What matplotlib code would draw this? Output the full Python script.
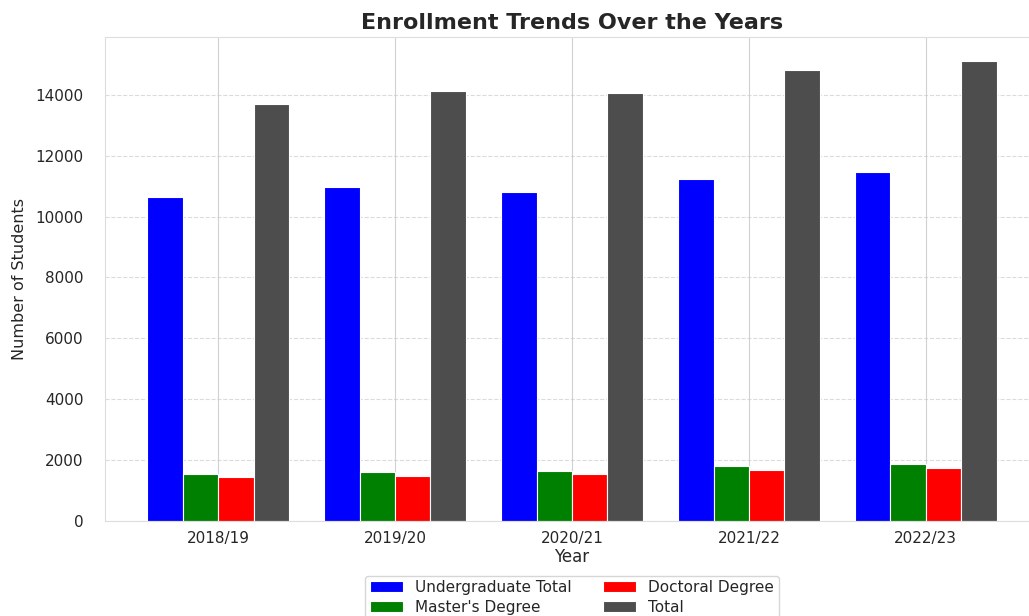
import numpy as np
import matplotlib
matplotlib.use("Agg")
import matplotlib.pyplot as plt
import seaborn as sns

years = ["2018/19", "2019/20", "2020/21", "2021/22", "2022/23"]
undergrad = [10650, 10975, 10810, 11240, 11470]
masters = [1535, 1620, 1655, 1815, 1865]
doctoral = [1445, 1470, 1535, 1675, 1730]
total = [13700, 14130, 14065, 14820, 15115]

series = [
    ("Undergraduate Total", undergrad, "blue"),
    ("Master's Degree", masters, "green"),
    ("Doctoral Degree", doctoral, "red"),
    ("Total", total, "#4d4d4d"),
]

sns.set_style("whitegrid")
plt.rcParams['font.family'] = ['DejaVu Sans']

fig = plt.figure(figsize=(10.29, 6.16), dpi=100)
# axes runs past the right edge, as in the reference crop
ax = fig.add_axes([105 / 1029, 95 / 616, 934 / 1029, 484 / 616])

x = np.arange(len(years))
width = 0.2
for i, (label, vals, color) in enumerate(series):
    ax.bar(x + (i - 1.5) * width, vals, width, label=label, color=color,
           edgecolor="white", linewidth=0.8)

ax.set_xticks(x)
ax.set_xticklabels(years, fontsize=11)
ax.tick_params(axis='y', labelsize=11, pad=12)
ax.set_xlim(-0.64, 4.64)
ax.set_ylim(0, 15900)
ax.set_yticks(np.arange(0, 14001, 2000))
ax.set_title("Enrollment Trends Over the Years", fontsize=16, fontweight='bold', pad=6)
ax.set_xlabel("Year", fontsize=12, labelpad=2)
ax.set_ylabel("Number of Students", fontsize=11.5, labelpad=6)

ax.yaxis.grid(True, linestyle='--', alpha=0.7)
ax.xaxis.grid(True, linestyle='-', alpha=0.9)
ax.set_axisbelow(True)
for s in ax.spines.values():
    s.set_edgecolor('#dddddd')

ax.legend(loc='upper center', bbox_to_anchor=(0.5, -0.097), ncol=2, fontsize=11,
          frameon=True, columnspacing=2.0, handlelength=2.2, labelspacing=0.3,
          borderpad=0.3)

fig.savefig("out.png", dpi=100)
